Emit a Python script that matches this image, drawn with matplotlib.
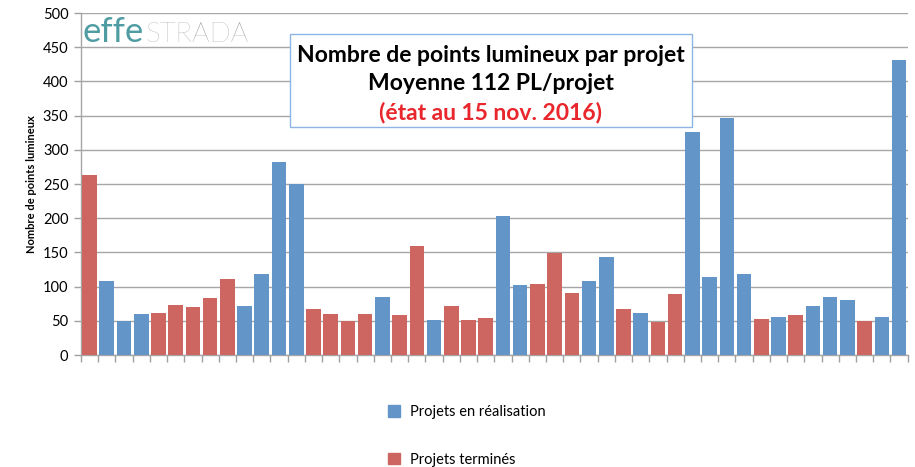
import numpy as np
import matplotlib.pyplot as plt
from matplotlib.patches import Patch, Rectangle

plt.rcParams['font.family'] = ['Lato', 'DejaVu Sans']

# points lumineux par projet, dans l'ordre du graphique
valeurs = [263, 108, 50, 60, 62, 73, 70, 83, 111, 71, 118, 282, 250,
           67, 60, 50, 60, 85, 59, 159, 51, 72, 51, 54, 204, 102, 104,
           149, 90, 108, 143, 67, 61, 48, 89, 326, 114, 347, 118, 52,
           56, 58, 71, 85, 81, 50, 56, 431]
# R = projet en réalisation, T = projet terminé
statut = ['T', 'R', 'R', 'R', 'T', 'T', 'T', 'T', 'T', 'R', 'R', 'R', 'R',
          'T', 'T', 'T', 'T', 'R', 'T', 'T', 'R', 'T', 'T', 'T', 'R', 'R', 'T',
          'T', 'T', 'R', 'R', 'T', 'R', 'T', 'T', 'R', 'R', 'R', 'R', 'T',
          'R', 'T', 'R', 'R', 'R', 'T', 'R', 'R']
yticks = [0, 50, 100, 150, 200, 250, 300, 350, 400, 450, 500]

bleu = '#6395C9'
rouge = '#CD6661'
couleurs = [bleu if s == 'R' else rouge for s in statut]

fig = plt.figure(figsize=(9.15, 4.67), dpi=100)
ax = fig.add_axes([0.0885, 0.2398, 0.9035, 0.7322])

x = np.arange(len(valeurs))
ax.bar(x, valeurs, width=0.85, color=couleurs, zorder=3)

ax.set_xlim(-0.5, len(valeurs) - 0.5)
ax.set_ylim(0, 500)
ax.set_yticks(yticks)
ax.set_xticks(np.arange(len(valeurs) + 1) - 0.5)
ax.set_xticklabels([])
ax.tick_params(axis='x', length=5, color='#A0A0A0', width=1)
ax.tick_params(axis='y', length=5, color='#A0A0A0', width=1, labelsize=10.5, pad=4)
ax.grid(axis='y', color='#A6A6A6', linewidth=1, zorder=0)
for s in ['top', 'right']:
    ax.spines[s].set_visible(False)
for s in ['left', 'bottom']:
    ax.spines[s].set_color('#A6A6A6')
    ax.spines[s].set_linewidth(1)
ax.set_ylabel('Nombre de points lumineux', fontsize=8, fontweight='bold', labelpad=4)

# logo
ax.text(0.002, 0.945, 'effe', transform=ax.transAxes, fontsize=25, color='#4F9DA3',
        va='center', ha='left', zorder=5)
ax.text(0.078, 0.937, 'STRADA', transform=ax.transAxes, fontsize=20, color='#9B9B9B',
        va='center', ha='left', fontweight='light', zorder=5)

# encadré titre
ax.add_patch(Rectangle((0.2527, 0.6667), 0.4861, 0.2719, transform=ax.transAxes,
                       fc='white', ec='#8EB4E3', lw=1, zorder=6))
cx = 0.4958
ax.text(cx, 0.877, 'Nombre de points lumineux par projet', transform=ax.transAxes,
        ha='center', va='center', fontsize=16.5, fontweight='bold', color='black', zorder=7)
ax.text(cx, 0.795, 'Moyenne 112 PL/projet', transform=ax.transAxes,
        ha='center', va='center', fontsize=16.5, fontweight='bold', color='black', zorder=7)
ax.text(cx, 0.7105, '(état au 15 nov. 2016)', transform=ax.transAxes, ha='center',
        va='center', fontsize=16.5, fontweight='bold', color='#E8262C', zorder=7)

poignees = [Patch(color=bleu), Patch(color=rouge)]
fig.legend(poignees, ['Projets en réalisation', 'Projets terminés'],
           loc='upper left', bbox_to_anchor=(0.418, 0.145), frameon=False,
           fontsize=10.5, handlelength=0.8, handleheight=0.8, handletextpad=0.7,
           labelspacing=2.3, borderaxespad=0)

fig.savefig('out.png', dpi=100)
